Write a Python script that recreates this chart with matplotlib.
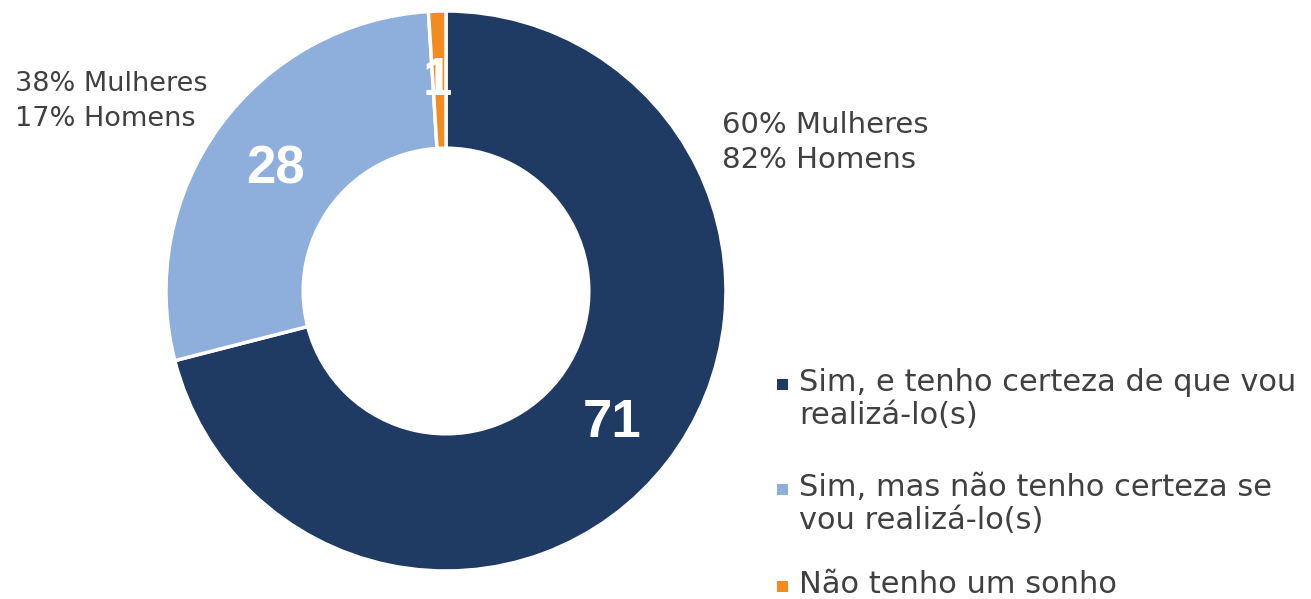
import matplotlib
matplotlib.use("Agg")
import matplotlib.pyplot as plt
from matplotlib.patches import Rectangle

categories = ["Sim, e tenho certeza de que vou\nrealizá-lo(s)",
              "Sim, mas não tenho certeza se\nvou realizá-lo(s)",
              "Não tenho um sonho"]
values = [71, 28, 1]
value_labels = ["71", "28", "1"]
colors = ["#1F3B63", "#8EAEDC", "#F38B20"]
notes_left = "38% Mulheres\n17% Homens"
notes_right = "60% Mulheres\n82% Homens"

W, H = 1311, 599
fig = plt.figure(figsize=(W / 100, H / 100), dpi=100)

def px(x, y):
    return (x / W, 1 - y / H)

cx, cy, R = 446, 291, 280
ax = fig.add_axes([(cx - R) / W, (H - cy - R) / H, 2 * R / W, 2 * R / H])
wedges, _ = ax.pie(values, colors=colors, startangle=90, counterclock=False,
                   radius=1, wedgeprops=dict(width=0.49, edgecolor="white", linewidth=2.5))
ax.set_xlim(-1, 1)
ax.set_ylim(-1, 1)
ax.set_aspect("equal")
ax.axis("off")

lab_font = "Liberation Sans"
txt_font = "DejaVu Sans"
tc = "#404040"

label_pos = [(612, 423), (275, 169), (437, 81)]
for lab, (x, y) in zip(value_labels, label_pos):
    fig.text(*px(x, y), lab, color="white", fontsize=38, fontweight="bold",
             family=lab_font, ha="center", va="center")

def lines(text, x, y0, step, fs):
    for i, ln in enumerate(text.split("\n")):
        fig.text(*px(x, y0 + i * step), ln, color=tc, fontsize=fs, family=txt_font,
                 ha="left", va="baseline")

lines(notes_left, 15, 91, 35, 19.5)
lines(notes_right, 722, 133, 35, 21)

leg_y = [391, 496, 593]
for cat, col, y in zip(categories, colors, leg_y):
    sq = 11
    fig.add_artist(Rectangle(px(777, y - 1), sq / W, sq / H,
                             transform=fig.transFigure, facecolor=col, edgecolor="none"))
    lines(cat, 799, y, 33, 22)

fig.savefig("out.png", dpi=100)
